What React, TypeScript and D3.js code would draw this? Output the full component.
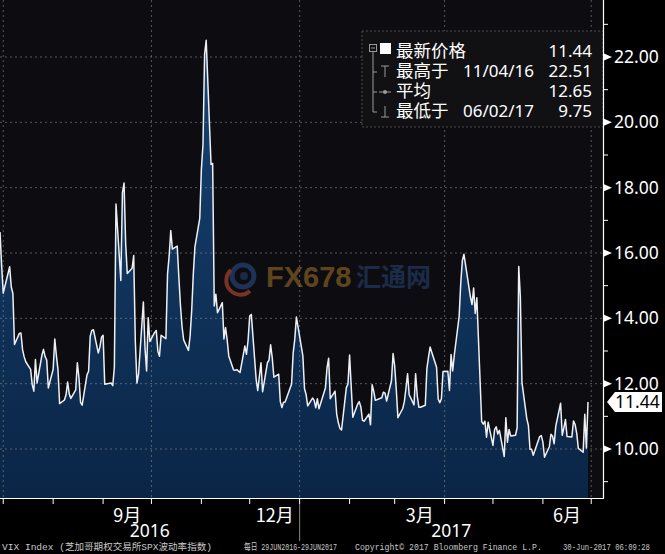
import React, { useLayoutEffect, useRef, useState } from "react";
import * as d3 from "d3";

// ---------- data ----------
const startDate = "2016-06-29";
const endDate = "2017-06-29";
const holidays = [
  "2016-07-04", "2016-09-05", "2016-11-24", "2016-12-26",
  "2017-01-02", "2017-01-16", "2017-02-20", "2017-04-14", "2017-05-29",
];
// VIX daily close, 29 Jun 2016 - 29 Jun 2017 (trading days)
const vixValues = [
  // Jun 2016
  16.64, 15.63,
  // Jul
  14.77, 15.58, 14.96, 14.76, 13.20, 13.54, 13.55, 13.04, 12.82, 12.67,
  12.44, 11.97, 11.77, 12.74, 12.02, 12.87, 13.05, 12.83, 12.72, 11.87,
  // Aug
  12.44, 13.37, 12.86, 12.42, 11.39, 11.50, 11.66, 12.05, 11.68, 11.55,
  11.81, 12.64, 12.19, 11.43, 11.34, 12.27, 12.38, 13.45, 13.63, 13.65,
  12.94, 13.12, 13.42,
  // Sep
  13.48, 11.98, 12.02, 11.94, 12.51, 17.50, 15.16, 17.85, 18.14, 16.30,
  15.37, 15.53, 15.92, 13.30, 12.02, 12.29, 14.50, 13.10, 12.39, 14.02, 13.29,
  // Oct
  13.57, 13.63, 12.99, 12.84, 13.48, 13.38, 15.36, 15.91, 16.69, 16.12,
  16.21, 15.28, 14.41, 13.75, 13.34, 13.02, 13.46, 14.24, 15.36, 16.19, 17.06,
  // Nov
  18.56, 19.32, 22.08, 22.51, 18.71, 18.74, 14.38, 14.74, 14.17, 14.48,
  13.37, 13.72, 13.35, 12.85, 12.42, 12.41, 12.43, 12.34, 13.15, 12.90, 13.33,
  // Dec
  14.07, 14.12, 12.14, 11.79, 12.22, 12.64, 11.75, 12.64, 12.72, 13.19,
  12.79, 12.20, 12.29, 11.45, 11.27, 11.43, 11.44, 11.99, 12.95, 13.37, 14.04,
  // Jan 2017
  12.85, 11.85, 11.67, 11.32, 11.56, 11.49, 11.26, 11.54, 11.23, 11.87,
  12.48, 12.78, 11.54, 11.77, 11.07, 10.81, 10.63, 10.58, 11.88, 11.99,
  // Feb
  12.88, 11.93, 10.97, 11.37, 11.45, 11.29, 10.88, 10.85, 11.07, 10.74,
  11.97, 11.76, 11.49, 11.57, 11.74, 11.71, 11.47, 12.09, 12.92,
  // Mar
  12.54, 11.81, 10.96, 11.24, 11.45, 11.86, 12.30, 11.66, 11.35, 12.30,
  11.63, 11.28, 11.28, 11.34, 12.47, 12.81, 13.12, 12.96, 12.50, 11.53,
  11.42, 11.54, 12.37,
  // Apr
  12.38, 11.79, 12.89, 12.39, 12.87, 14.05, 15.07, 15.77, 15.96, 14.66,
  14.42, 14.93, 14.15, 14.63, 10.84, 10.76, 10.85, 10.36, 10.82,
  // May
  10.11, 10.59, 10.68, 10.46, 10.57, 9.77, 10.96, 10.21, 10.60, 10.40,
  10.42, 10.65, 15.59, 14.66, 12.04, 10.93, 10.72, 9.99, 9.99, 9.81,
  10.38, 10.41,
  // Jun
  10.21, 9.75, 10.07, 10.45, 10.39, 10.16, 10.70, 11.40, 10.42, 10.64,
  10.90, 10.38, 10.37, 10.86, 10.75, 10.48, 10.02, 9.90, 11.06, 10.03, 11.44,
];

const yTickValues = [10, 12, 14, 16, 18, 20, 22];
const yMinorValues = [9, 11, 13, 15, 17, 19, 21, 23];
const monthLabelMonths = ["2016-09-01", "2016-12-01", "2017-03-01", "2017-06-01"];
const monthLabels = ["9月", "12月", "3月", "6月"];
const yearLabels = ["2016", "2017"];
const quarterLines = ["2016-07-01", "2016-10-01", "2017-01-01", "2017-04-01", "2017-07-01"];

const legendNames = ["最新价格", "最高于", "平均", "最低于"];
const legendDates = ["", "11/04/16", "", "06/02/17"];
const legendValues = ["11.44", "22.51", "12.65", "9.75"];
const lastValue = "11.44";

const footerTexts = [
  "VIX Index (芝加哥期权交易所SPX波动率指数)",
  "每日 29JUN2016-29JUN2017",
  "Copyright© 2017 Bloomberg Finance L.P.",
  "30-Jun-2017 06:09:28",
];

// ---------- helpers ----------
const parse = d3.timeParse("%Y-%m-%d");
const W = 665;
const H = 554;
const plotRight = 603;
const plotBottom = 498;

const holidaySet = new Set(holidays);
const fmt = d3.timeFormat("%Y-%m-%d");
const tradingDays = d3.timeDay
  .range(parse(startDate)!, d3.timeDay.offset(parse(endDate)!, 1))
  .filter((d) => d.getDay() !== 0 && d.getDay() !== 6 && !holidaySet.has(fmt(d)));

const data = vixValues.map((v, i) => ({ date: tradingDays[i], value: v }));

const x = d3.scaleTime().domain([parse(startDate)!, parse(endDate)!]).range([0, 588]);
const y = d3.scaleLinear().domain([10, 22]).range([449, 57]);

const lineGen = d3
  .line<{ date: Date; value: number }>()
  .x((d) => x(d.date))
  .y((d) => y(d.value));
const areaGen = d3
  .area<{ date: Date; value: number }>()
  .x((d) => x(d.date))
  .y0(plotBottom)
  .y1((d) => y(d.value));

const monthTicks = d3.timeMonth.range(parse("2016-07-01")!, parse("2017-07-02")!);

const numFont = "'Noto Sans', 'DejaVu Sans', sans-serif";
const cjkFont = "'Noto Sans CJK SC', 'Noto Sans', sans-serif";

const footerX = [2, 244, 355, 563];
const footerLen = [210, 93, 187, 87];

function FooterText({ text, x0, len }: { text: string; x0: number; len: number }) {
  const ref = useRef<SVGTextElement>(null);
  const [sx, setSx] = useState(0.8);
  useLayoutEffect(() => {
    if (ref.current) {
      const w = ref.current.getComputedTextLength();
      if (w > 0) setSx(len / w);
    }
  }, [text, len]);
  return (
    <g transform={`translate(${x0},550) scale(${sx},1)`}>
      <text
        ref={ref}
        x={0}
        y={0}
        fontFamily="'Liberation Mono', 'Noto Sans CJK SC', monospace"
        fontSize={9.5}
        fill="#c8c8c8"
      >
        {text}
      </text>
    </g>
  );
}

export default function App() {
  const lastY = y(+lastValue);
  const jan1 = x(parse("2017-01-01")!);
  return (
    <svg
      width={W}
      height={H}
      style={{ position: "fixed", left: 0, top: 0, background: "#000" }}
    >
      <defs>
        <linearGradient id="areaGrad" gradientUnits="userSpaceOnUse" x1="0" y1="40" x2="0" y2={plotBottom}>
          <stop offset="0" stopColor="#174373" />
          <stop offset="1" stopColor="#0a2546" />
        </linearGradient>
      </defs>
      <rect x={0} y={0} width={W} height={H} fill="#000" />
      <rect x={0} y={0} width={plotRight} height={plotBottom} fill="#0d0d11" />

      {/* watermark */}
      <g opacity={0.65}>
        <circle cx={243} cy={276} r={11} fill="none" stroke="#27477a" strokeWidth={5} />
        <path d="M 231 270 A 14 14 0 0 0 250 291" fill="none" stroke="#b4482a" strokeWidth={4} />
        <circle cx={244} cy={276} r={4} fill="#1e3a66" />
        <text x={266} y={287} fontFamily="'Liberation Sans', sans-serif" fontWeight="bold" fontSize={29} fill="#8a6424">
          FX678
        </text>
        <text x={356} y={286} fontFamily={cjkFont} fontWeight="bold" fontSize={25} fill="#243c66">
          汇通网
        </text>
      </g>

      {/* area */}
      <path d={areaGen(data) || ""} fill="url(#areaGrad)" />

      {/* grid */}
      {yTickValues.map((v) => (
        <line key={"gy" + v} x1={0} x2={plotRight} y1={y(v)} y2={y(v)} stroke="#8a8a8a" strokeOpacity={0.6} strokeWidth={1} strokeDasharray="2,3" />
      ))}
      {quarterLines.map((d) => (
        <line key={"gx" + d} x1={x(parse(d)!)} x2={x(parse(d)!)} y1={0} y2={plotBottom} stroke="#8a8a8a" strokeOpacity={0.6} strokeWidth={1} strokeDasharray="2,3" />
      ))}

      {/* line */}
      <path d={lineGen(data) || ""} fill="none" stroke="#eef0f4" strokeWidth={1.5} strokeLinejoin="round" />

      {/* legend box */}
      <rect x={362} y={31} width={241} height={96} fill="#111114" stroke="#4a4a4a" strokeDasharray="2,2" />
      <g stroke="#9a9a9a" strokeWidth={1} fill="none">
        <rect x={369.5} y={44.5} width={7} height={7} />
        <line x1={371} x2={375} y1={48} y2={48} />
        <line x1={373} x2={373} y1={52} y2={112} />
        <line x1={373} x2={377} y1={72} y2={72} />
        <line x1={373} x2={377} y1={92} y2={92} />
        <line x1={373} x2={377} y1={112} y2={112} />
        <line x1={381} x2={389} y1={66} y2={66} />
        <line x1={385} x2={385} y1={66} y2={77} />
        <line x1={379} x2={391} y1={92} y2={92} />
        <line x1={381} x2={389} y1={117} y2={117} />
        <line x1={385} x2={385} y1={106} y2={117} />
      </g>
      <circle cx={385} cy={92} r={2} fill="#9a9a9a" />
      <rect x={380} y={43} width={11} height={11} fill="#fff" />
      {legendNames.map((n, i) => {
        const by = 57 + i * 20;
        return (
          <g key={"lg" + i} fill="#fff">
            <text x={396} y={by} fontFamily={cjkFont} fontSize={17.5}>
              {n}
            </text>
            {legendDates[i] && (
              <text x={463} y={by} fontFamily={numFont} fontSize={17}>
                {legendDates[i]}
              </text>
            )}
            <text x={592} y={by} textAnchor="end" fontFamily={numFont} fontSize={17}>
              {legendValues[i]}
            </text>
          </g>
        );
      })}

      {/* right axis */}
      <line x1={plotRight + 0.5} x2={plotRight + 0.5} y1={0} y2={plotBottom} stroke="#fff" strokeWidth={1.2} />
      {yMinorValues.map((v) =>
        y(v) > 2 && y(v) < plotBottom ? (
          <line key={"mn" + v} x1={plotRight} x2={plotRight + 5} y1={y(v)} y2={y(v)} stroke="#fff" />
        ) : null
      )}
      {yTickValues.map((v) => (
        <g key={"yt" + v}>
          <path d={`M ${plotRight + 1} ${y(v) - 3.5} L ${plotRight + 9} ${y(v)} L ${plotRight + 1} ${y(v) + 3.5} Z`} fill="#fff" />
          <text x={614} y={y(v) + 6} fontFamily={numFont} fontSize={17.5} fill="#fff">
            {v.toFixed(2)}
          </text>
        </g>
      ))}
      {/* last value tag */}
      <path
        d={`M 607 ${lastY} L 615 ${lastY - 10} L 662 ${lastY - 10} L 662 ${lastY + 10} L 615 ${lastY + 10} Z`}
        fill="#fff"
      />
      <text x={615} y={lastY + 6} fontFamily={numFont} fontSize={17.5} fill="#000">
        {lastValue}
      </text>

      {/* bottom axis */}
      <line x1={0} x2={plotRight + 1} y1={plotBottom + 0.5} y2={plotBottom + 0.5} stroke="#fff" strokeWidth={1.2} />
      {monthTicks.map((d, i) => (
        <line key={"mt" + i} x1={x(d)} x2={x(d)} y1={plotBottom} y2={plotBottom + 6} stroke="#fff" />
      ))}
      {monthLabelMonths.map((m, i) => {
        const s = parse(m)!;
        const e = d3.timeMonth.offset(s, 1);
        return (
          <text key={"ml" + i} x={(x(s) + x(e)) / 2} y={522} textAnchor="middle" fontFamily={cjkFont} fontSize={18} fill="#fff">
            {monthLabels[i]}
          </text>
        );
      })}
      <line x1={jan1} x2={jan1} y1={504} y2={541} stroke="#888" />
      <text x={jan1 / 2} y={537} textAnchor="middle" fontFamily={numFont} fontSize={17.5} fill="#fff">
        {yearLabels[0]}
      </text>
      <text x={(jan1 + plotRight) / 2} y={537} textAnchor="middle" fontFamily={numFont} fontSize={17.5} fill="#fff">
        {yearLabels[1]}
      </text>

      {/* footer */}
      {footerTexts.map((t, i) => (
        <FooterText key={"ft" + i} text={t} x0={footerX[i]} len={footerLen[i]} />
      ))}
    </svg>
  );
}
